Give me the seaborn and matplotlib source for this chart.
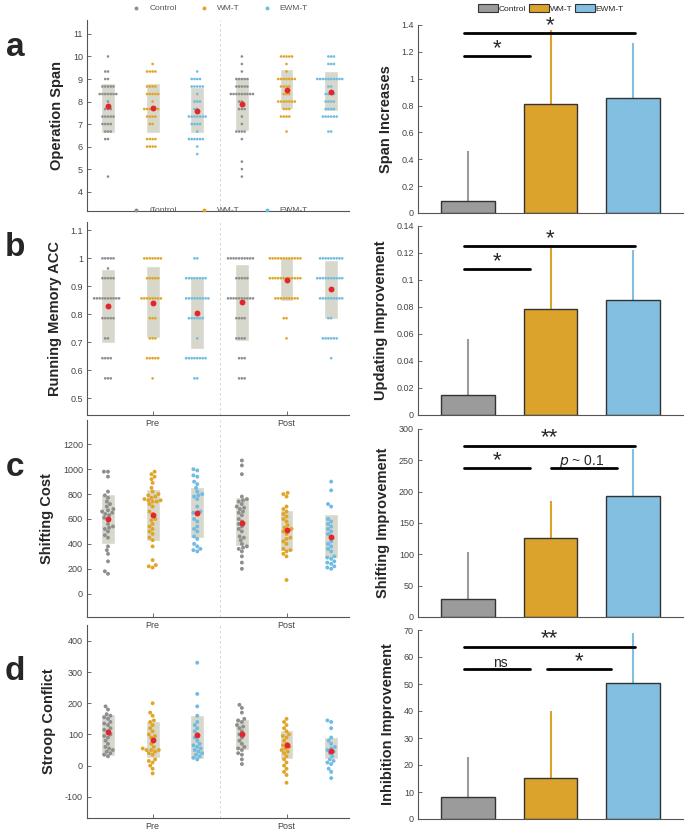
import numpy as np
import pandas as pd
import seaborn as sns
import matplotlib.pyplot as plt
from matplotlib.lines import Line2D
from matplotlib.patches import Patch
from matplotlib.ticker import FuncFormatter

sns.set_style('ticks')
plt.rcParams['font.family'] = ['Liberation Sans', 'DejaVu Sans']

# groups / colours
groups = ['Control', 'WM-T', 'EWM-T']
sessions = ['Pre', 'Post']
dot_colors = ['#8e8e8e', '#e0a526', '#6fbbe2']
bar_colors = ['#9b9b9b', '#dba22c', '#82bfe0']
box_color = '#d7d8cb'
mean_color = '#e3262b'

# ---- left panels: individual scores (order: Pre C, Pre WM, Pre EWM, Post C, Post WM, Post EWM)
span_levels = [10, 9.667, 9.333, 9, 8.667, 8.333, 8, 7.667, 7.333, 7, 6.667, 6.333, 6, 5.667, 5.333, 5, 4.667]
span_counts = [
    [1, 0, 2, 2, 5, 7, 1, 3, 5, 4, 3, 2, 0, 0, 0, 0, 1],
    [0, 1, 4, 0, 4, 5, 1, 6, 4, 2, 0, 4, 4, 0, 0, 0, 0],
    [0, 0, 1, 4, 5, 1, 3, 2, 7, 4, 1, 6, 1, 1, 0, 0, 0],
    [1, 1, 1, 5, 5, 9, 2, 3, 1, 1, 4, 1, 0, 0, 1, 1, 1],
    [5, 1, 1, 7, 4, 3, 7, 3, 4, 0, 1, 0, 0, 0, 0, 0, 0],
    [3, 3, 0, 10, 2, 4, 4, 4, 6, 0, 2, 0, 0, 0, 0, 0, 0],
]
span_means = [7.81, 7.71, 7.60, 7.91, 8.52, 8.44]
span_lo = [6.62, 6.62, 6.62, 6.70, 7.66, 7.56]
span_hi = [8.84, 8.82, 8.64, 9.08, 9.44, 9.36]

rm_levels = [1.0, 0.964, 0.929, 0.857, 0.786, 0.714, 0.643, 0.571]
rm_counts = [
    [5, 1, 5, 10, 5, 2, 4, 3],
    [7, 0, 5, 8, 3, 3, 5, 1],
    [2, 0, 8, 9, 6, 1, 8, 2],
    [10, 0, 5, 10, 4, 4, 3, 3],
    [12, 0, 12, 9, 2, 1, 0, 0],
    [9, 0, 10, 9, 2, 6, 1, 0],
]
rm_means = [0.828, 0.842, 0.804, 0.843, 0.921, 0.889]
rm_lo = [0.696, 0.714, 0.677, 0.703, 0.849, 0.783]
rm_hi = [0.962, 0.971, 0.929, 0.981, 1.0, 0.995]

shift_pre_control = [980, 980, 940, 820, 790, 770, 740, 720, 700, 680, 670, 660, 650, 640, 630,
                     610, 600, 560, 540, 530, 520, 500, 470, 450, 380, 350, 320, 260, 180, 160]
shift_pre_wmt = [980, 960, 940, 920, 890, 850, 820, 800, 790, 780, 770, 760, 750, 750, 740, 740, 720,
                 700, 660, 640, 600, 590, 560, 540, 520, 500, 480, 450, 430, 380, 270, 230, 220, 210]
shift_pre_ewmt = [1000, 990, 950, 940, 900, 880, 850, 820, 800, 790, 780, 760, 700, 660, 650, 640,
                  600, 580, 540, 520, 500, 460, 440, 400, 380, 360, 350, 340]
shift_post_control = [1070, 1030, 960, 780, 760, 750, 740, 720, 700, 690, 680, 660, 650, 630, 600, 580,
                      560, 540, 520, 500, 460, 450, 430, 400, 380, 370, 360, 340, 300, 250, 200]
shift_post_wmt = [810, 800, 780, 700, 680, 660, 640, 620, 600, 580, 550, 530, 520, 510, 500, 480,
                  450, 440, 420, 400, 360, 350, 340, 320, 300, 110]
shift_post_ewmt = [900, 830, 720, 700, 600, 580, 560, 540, 520, 500, 480, 460, 420, 400, 380, 360,
                   340, 300, 290, 280, 260, 250, 240, 220, 210, 200]
shift_means = [596, 636, 647, 570, 510, 457]
shift_lo = [398, 425, 449, 382, 345, 283]
shift_hi = [800, 840, 853, 773, 676, 639]

stroop_pre_control = [190, 180, 165, 160, 155, 150, 140, 135, 130, 120, 115, 110, 100, 95, 90, 80,
                      70, 60, 55, 50, 45, 40, 35, 30]
stroop_pre_wmt = [200, 170, 160, 145, 140, 130, 120, 110, 100, 95, 90, 80, 70, 60, 55, 50, 50, 50,
                  45, 40, 35, 20, 15, 10, 0, -10, -25]
stroop_pre_ewmt = [330, 230, 190, 160, 140, 130, 120, 110, 100, 90, 80, 70, 65, 60, 55, 50, 45, 40,
                   35, 30, 25, 20]
stroop_post_control = [195, 185, 170, 150, 145, 140, 130, 125, 120, 110, 100, 90, 80, 70, 60, 55,
                       50, 40, 35, 20, 5]
stroop_post_wmt = [150, 140, 130, 120, 110, 100, 95, 90, 80, 70, 65, 60, 55, 50, 45, 40, 30, 20, 10,
                   0, -10, -20, -30, -55]
stroop_post_ewmt = [145, 140, 120, 90, 80, 70, 60, 55, 50, 45, 40, 30, 20, 15, 10, 5, -10, -20, -40]
stroop_means = [108, 81, 98, 100, 67, 47]
stroop_lo = [31, 25, 22, 51, 20, 20]
stroop_hi = [165, 142, 162, 148, 113, 92]

# ---- right panels: improvement bars and upper error
span_bar = [0.09, 0.815, 0.86]
span_err = [0.46, 1.36, 1.265]
upd_bar = [0.0145, 0.0785, 0.085]
upd_err = [0.056, 0.126, 0.122]
shimp_bar = [29, 126, 193]
shimp_err = [103, 185, 268]
inhib_bar = [8, 15.2, 50.5]
inhib_err = [23, 40, 69]

slot_names = [f'{s} {g}' for s in sessions for g in groups]
fmt = FuncFormatter(lambda v, p: f'{v:g}')

fig = plt.figure(figsize=(6.86, 8.32), dpi=100)


def style_axis(ax):
    sns.despine(ax=ax)
    ax.set_facecolor('none')
    for s in ['left', 'bottom']:
        ax.spines[s].set_color('#555555')
        ax.spines[s].set_linewidth(0.8)
    ax.tick_params(direction='in', length=3, width=0.6, labelsize=6.5,
                   colors='#555555', labelcolor='#444444', pad=3)
    ax.yaxis.set_major_formatter(fmt)


def swarm_panel(rect, samples, means, lo, hi, ylim, yticks, ylabel, dot_size, show_xlabels=True):
    ax = fig.add_axes(rect)
    rows = [(name, g, v) for name, g, vals in zip(slot_names, groups * 2, samples) for v in vals]
    df = pd.DataFrame(rows, columns=['slot', 'group', 'value'])
    sns.swarmplot(data=df, x='slot', y='value', hue='group', order=slot_names,
                  hue_order=groups, palette=dot_colors, size=dot_size, linewidth=0,
                  legend=False, ax=ax, zorder=2)
    pos = np.arange(len(slot_names))
    ax.bar(pos, np.subtract(hi, lo), bottom=lo, width=0.31, color=box_color, zorder=0)
    ax.scatter(pos, means, s=18, color=mean_color, linewidths=0, zorder=3)
    ax.axvline(2.5, color='#cfcfcf', ls=(0, (3, 3)), lw=0.6, zorder=0)
    ax.set_xlim(-0.47, 5.4)
    ax.set_ylim(*ylim)
    ax.set_yticks(yticks)
    ax.set_xticks([1, 4])
    ax.set_xticklabels(sessions if show_xlabels else ['', ''])
    ax.set_xlabel('')
    ax.set_ylabel(ylabel, fontsize=10.5, fontweight='bold', labelpad=6)
    style_axis(ax)
    return ax


def bar_panel(rect, vals, errs, ylim, yticks, ylabel, sigs):
    ax = fig.add_axes(rect)
    df = pd.DataFrame({'group': groups, 'value': vals})
    sns.barplot(data=df, x='group', y='value', hue='group', palette=bar_colors,
                order=groups, hue_order=groups, width=0.65, errorbar=None, saturation=1,
                edgecolor='#333333', linewidth=1, legend=False, ax=ax, zorder=2)
    ax.vlines(range(len(groups)), vals, errs, colors=bar_colors, lw=1.5, zorder=1)
    for x1, x2, y, label, lx in sigs:
        ax.plot([x1, x2], [y, y], color='black', lw=2, clip_on=False, zorder=4)
        star = label.startswith('*')
        ax.annotate(label, (lx, y), xytext=(0, 1.5 if star else 2), textcoords='offset points',
                    ha='center', va='baseline', fontsize=16 if star else 10,
                    annotation_clip=False)
    ax.set_xlim(-0.6, 2.6)
    ax.set_ylim(*ylim)
    ax.set_yticks(yticks)
    ax.set_xticks([])
    ax.set_xlabel('')
    ax.set_ylabel(ylabel, fontsize=10.5, fontweight='bold', labelpad=6)
    style_axis(ax)
    return ax


H = 832.0
W = 686.0


def rect(x0, x1, top, bottom):
    return [x0 / W, 1 - bottom / H, (x1 - x0) / W, (bottom - top) / H]


span_samples = [np.repeat(span_levels, c) for c in span_counts]
rm_samples = [np.repeat(rm_levels, c) for c in rm_counts]
shift_samples = [shift_pre_control, shift_pre_wmt, shift_pre_ewmt,
                 shift_post_control, shift_post_wmt, shift_post_ewmt]
stroop_samples = [stroop_pre_control, stroop_pre_wmt, stroop_pre_ewmt,
                  stroop_post_control, stroop_post_wmt, stroop_post_ewmt]

axa = swarm_panel(rect(87, 349, 20, 211), span_samples, span_means, span_lo, span_hi,
                  (3.14, 11.62), range(4, 12), 'Operation Span', 1.9, show_xlabels=False)
axb = swarm_panel(rect(87, 349, 222, 415), rm_samples, rm_means, rm_lo, rm_hi,
                  (0.44, 1.13), [0.5, 0.6, 0.7, 0.8, 0.9, 1.0, 1.1], 'Running Memory ACC', 1.9)
axc = swarm_panel(rect(87, 349, 420, 617), shift_samples, shift_means, shift_lo, shift_hi,
                  (-187, 1395), range(0, 1201, 200), 'Shifting Cost', 2.8)
axd = swarm_panel(rect(87, 349, 625, 818), stroop_samples, stroop_means, stroop_lo, stroop_hi,
                  (-168, 451), range(-100, 401, 100), 'Stroop Conflict', 2.8)

dot_handles = [Line2D([], [], marker='o', ls='', ms=1.8, color=c, label=g)
               for g, c in zip(groups, dot_colors)]
for ax in [axa, axb]:
    ax.legend(handles=dot_handles, loc='lower center', bbox_to_anchor=(0.5, 1.0), ncol=3,
              frameon=False, fontsize=6, labelcolor='#555555', handletextpad=0.6,
              columnspacing=2.2, borderaxespad=0.5)

bar_panel(rect(418, 683, 25, 213), span_bar, span_err, (0, 1.4),
          [0, 0.2, 0.4, 0.6, 0.8, 1.0, 1.2, 1.4], 'Span Increases',
          [(-0.04, 0.75, 1.17, '*', 0.36), (-0.04, 2.02, 1.34, '*', 1.0)])
bar_panel(rect(418, 683, 226, 415), upd_bar, upd_err, (0, 0.14),
          [0, 0.02, 0.04, 0.06, 0.08, 0.10, 0.12, 0.14], 'Updating Improvement',
          [(-0.04, 0.75, 0.108, '*', 0.36), (-0.04, 2.02, 0.125, '*', 1.0)])
bar_panel(rect(418, 683, 429, 617), shimp_bar, shimp_err, (0, 300),
          range(0, 301, 50), 'Shifting Improvement',
          [(-0.04, 0.75, 237.5, '*', 0.36), (1.01, 1.8, 237.5, '$p$ ~ 0.1', 1.37),
           (-0.04, 2.02, 273.6, '**', 0.98)])
bar_panel(rect(418, 683, 630, 819), inhib_bar, inhib_err, (0, 70),
          range(0, 71, 10), 'Inhibition Improvement',
          [(-0.04, 0.75, 55.4, 'ns', 0.39), (0.955, 1.73, 55.4, '*', 1.35),
           (-0.04, 2.02, 63.8, '**', 0.98)])

bar_handles = [Patch(facecolor=c, edgecolor='#333333', lw=0.8, label=g)
               for g, c in zip(groups, bar_colors)]
fig.legend(handles=bar_handles, loc='upper center', bbox_to_anchor=(551 / W, 1.0), ncol=3,
           frameon=False, fontsize=6, handlelength=2.4, handleheight=1.0,
           handletextpad=0.1, columnspacing=0.3, borderaxespad=0.1)

for letter, y in zip('abcd', [47, 247, 468, 671]):
    fig.text(15 / W, 1 - y / H, letter, fontsize=24, fontweight='bold',
             ha='center', va='center')

fig.savefig('out.png', dpi=100)
